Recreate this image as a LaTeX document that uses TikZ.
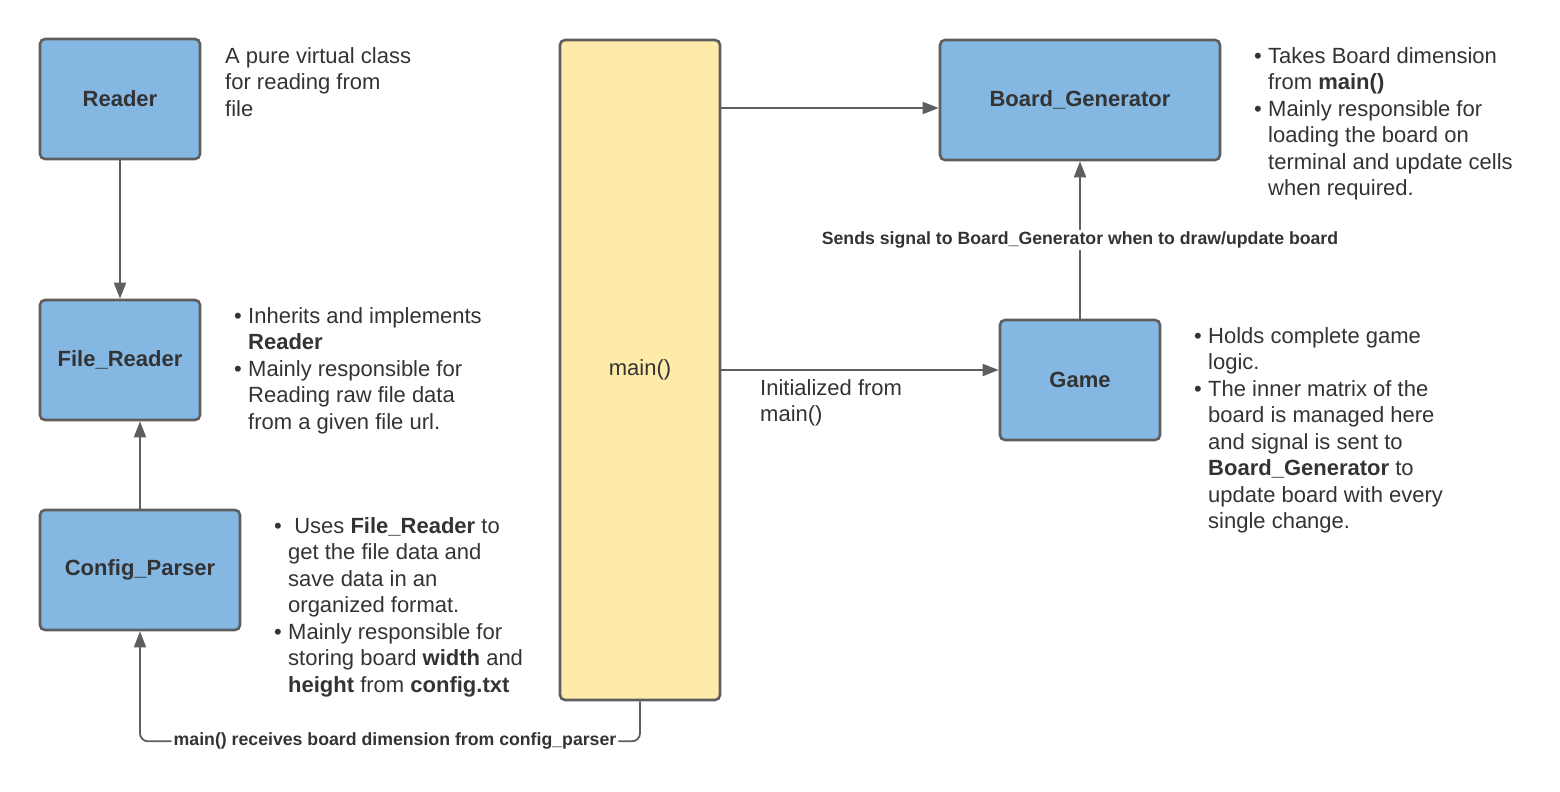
\documentclass[tikz,border=0pt]{standalone}
\usepackage{fontspec}
\setmainfont{Liberation Sans}
\usetikzlibrary{arrows.meta}
\definecolor{boxblue}{HTML}{84B8E3}
\definecolor{mainyellow}{HTML}{FFEBA9}
\definecolor{edgegray}{HTML}{5E5E5E}
\definecolor{inkgray}{HTML}{333333}
\newcommand{\bul}{\makebox[14pt][l]{•}}
\newcommand{\ind}{\hspace*{14pt}}
\begin{document}
\begin{tikzpicture}[x=1pt,y=-1pt,
  block/.style={draw=edgegray,line width=2.6pt,rounded corners=5pt,fill=boxblue,text=inkgray,
    font=\fontsize{22}{26.5}\selectfont\bfseries,minimum width=160pt,minimum height=120pt,inner sep=0pt},
  note/.style={anchor=north west,inner sep=0pt,align=left,text=inkgray,font=\fontsize{22}{26.5}\selectfont},
  link/.style={draw=edgegray,line width=1.8pt,-{Triangle[length=16pt,width=12pt]}},
  tag/.style={fill=white,inner sep=2pt,text=inkgray,font=\fontsize{17.7}{20}\selectfont\bfseries}]
\useasboundingbox (0,0) rectangle (1560,792);
% Left column: reader classes and the config parser.
\node[block] (reader) at (120,99) {Reader};
\node[block] (filereader) at (120,360) {File\_Reader};
\node[block,minimum width=200pt] (config) at (140,570) {Config\_Parser};
% Centre: main() drives everything.
\node[block,fill=mainyellow,minimum height=660pt,font=\fontsize{22}{26.5}\selectfont] (main) at (640,370) {main()};
% Right column: board generator and game logic.
\node[block,minimum width=280pt] (boardgen) at (1080,100) {Board\_Generator};
\node[block] (game) at (1080,380) {Game};
% Connectors.
\draw[link] (reader) -- (filereader);
\draw[link] (config.north) -- (config.north |- filereader.south);
\draw[link] ([yshift=-8pt]main.east |- boardgen.west) -- ([yshift=-8pt]boardgen.west);
\draw[link] ([yshift=10pt]main.east |- game.west) -- ([yshift=10pt]game.west);
\draw[link] (game.north) -- node[tag] {Sends signal to Board\_Generator when to draw/update board} (boardgen.south);
\draw[link,rounded corners=8pt] (main.south) -- ++(0,40) -| node[tag,pos=.245] {main() receives board dimension from config\_parser} (config.south);
% Notes beside the boxes.
\node[note] (readernote) at (225,47) {A pure virtual class\\for reading from\\file};
\node[note] (filenote) at (234,307) {\bul Inherits and implements\\\ind\textbf{Reader}\\\bul Mainly responsible for\\\ind Reading raw file data\\\ind from a given file url.};
\node[note] (confignote) at (274,517) {\bul\ Uses \textbf{File\_Reader} to\\\ind get the file data and\\\ind save data in an\\\ind organized format.\\\bul Mainly responsible for\\\ind storing board \textbf{width} and\\\ind\textbf{height} from \textbf{config.txt}};
\node[note] (initnote) at (760,379) {Initialized from\\main()};
\node[note] (boardnote) at (1254,47) {\bul Takes Board dimension\\\ind from \textbf{main()}\\\bul Mainly responsible for\\\ind loading the board on\\\ind terminal and update cells\\\ind when required.};
\node[note] (gamenote) at (1194,327) {\bul Holds complete game\\\ind logic.\\\bul The inner matrix of the\\\ind board is managed here\\\ind and signal is sent to\\\ind\textbf{Board\_Generator} to\\\ind update board with every\\\ind single change.};
\end{tikzpicture}
\end{document}
